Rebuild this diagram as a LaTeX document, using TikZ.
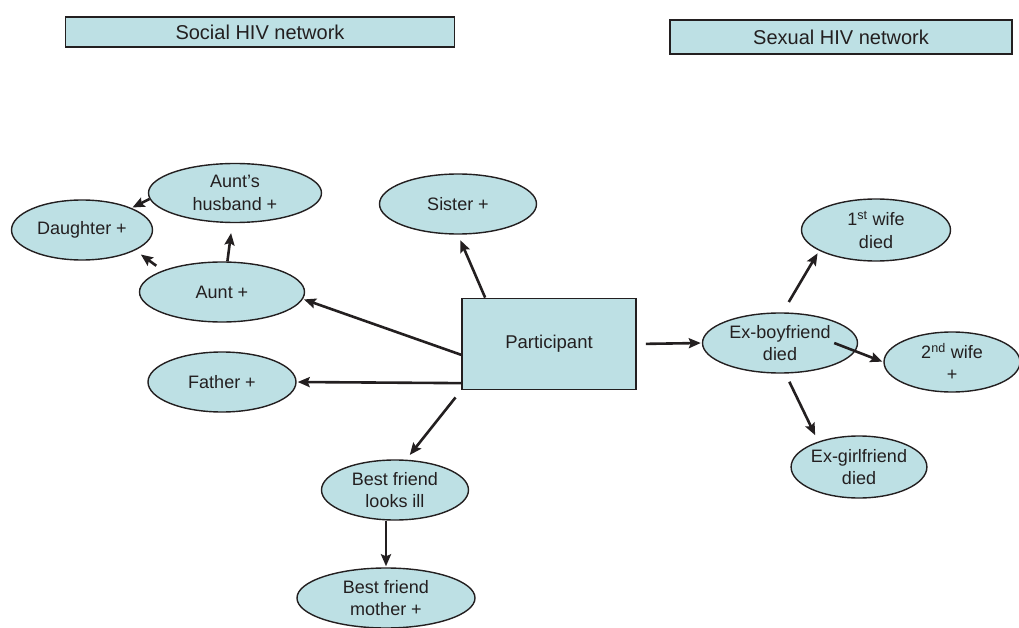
\documentclass[tikz,border=0pt]{standalone}
\usepackage{fontspec}
\setmainfont{Liberation Sans}
\usetikzlibrary{arrows.meta, shapes.geometric}

\definecolor{nodeblue}{RGB}{189,224,228}
\definecolor{ink}{RGB}{35,31,32}

\begin{document}
\begin{tikzpicture}[
  x = 1pt, y = -1pt,
  > = {Stealth[length=12pt, width=10pt, inset=2pt]},
  shorten > = 1pt,
  line width = 2.6pt,
  font = \fontsize{18}{22.5}\selectfont,
  ink
  ]

  \tikzstyle{person}=[
  ellipse,
  draw = ink,
  line width = 1.4pt,
  fill = nodeblue,
  align = center,
  inner sep = 0pt
  ]

  \tikzstyle{header}=[
  rectangle,
  draw = ink,
  line width = 1.4pt,
  fill = nodeblue,
  inner sep = 0pt
  ]

  \useasboundingbox (0,0) rectangle (1019,628);

  \node[header, font=\fontsize{20}{24}\selectfont, minimum width=389pt, minimum height=30pt] (social) at (260,32) {Social HIV network};
  \node[header, font=\fontsize{20}{24}\selectfont, minimum width=342pt, minimum height=34pt] (sexual) at (841,37) {Sexual HIV network};

  \node[header, font=\fontsize{18.5}{22.5}\selectfont, line width=1.8pt, minimum width=174pt, minimum height=91pt] (p) at (549,344) {Participant};

  % social side
  \node[person, minimum width=173pt, minimum height=59pt] (husband) at (235,193) {Aunt's\\husband +};
  \node[person, minimum width=141pt, minimum height=60pt] (daughter) at (82,230) {Daughter +};
  \node[person, minimum width=157pt, minimum height=60pt] (sis) at (458,204) {Sister +};
  \node[person, minimum width=165pt, minimum height=60pt] (aunt) at (222,292) {Aunt +};
  \node[person, minimum width=148pt, minimum height=60pt] (father) at (222,382) {Father +};
  \node[person, minimum width=147pt, minimum height=60pt] (bf1) at (395,490) {Best friend\\looks ill};
  \node[person, minimum width=178pt, minimum height=60pt] (bf2) at (386,598) {Best friend\\mother +};

  % sexual side
  \node[person, minimum width=155pt, minimum height=60pt] (exb) at (780,343) {Ex-boyfriend\\died};
  \node[person, minimum width=149pt, minimum height=62pt] (wife1) at (876,230) {1\textsuperscript{st} wife\\died};
  \node[person, minimum width=136pt, minimum height=60pt] (wife2) at (952,362) {2\textsuperscript{nd} wife\\+};
  \node[person, minimum width=133pt, minimum height=62pt] (exg) at (859,467) {Ex-girlfriend\\died};

  \path[->] (p.144) edge[shorten >=6pt] (sis.south);
  \path[->] (p.187) edge (aunt.355);
  \path[->] (p.204) edge (father.east);
  \path[->] (p.south west) edge[shorten <=9pt, shorten >=6pt] (bf1.70);
  \path[->] (p.east) edge[shorten <=9pt] (exb.west);
  \path[->] (exb.85) edge[shorten <=12pt, shorten >=3pt] (wife1.200);
  \path[->] ([xshift=-24pt]exb.east) edge (wife2.west);
  \path[->] (exb.-80) edge[shorten <=9pt, shorten >=7pt] (exg.148);
  \path[->] (aunt.80) edge[shorten >=10pt] (husband.265);
  \path[->] (aunt.160) edge[shorten <=8pt, shorten >=7pt] (daughter.-21);
  \path[->] (husband.184) edge (daughter.24);
  \path[->] (bf1.south -| bf2.north) edge (bf2.north);

\end{tikzpicture}
\end{document}
